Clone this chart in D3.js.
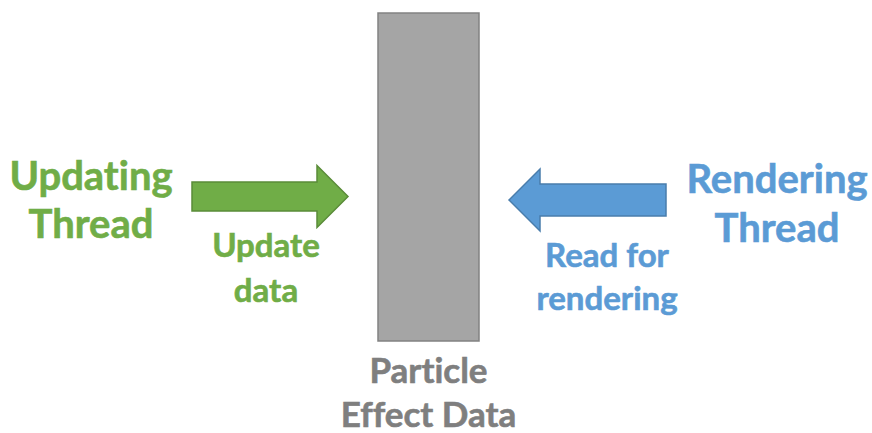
<!DOCTYPE html>
<html>
<head>
<meta charset="utf-8">
<script src="https://cdn.jsdelivr.net/npm/d3@7"></script>
<style>
  html, body { margin: 0; padding: 0; background: #fff; }
  svg text { font-family: Lato, "Open Sans", sans-serif; font-weight: bold; font-variant-ligatures: none; }
</style>
</head>
<body>
<div id="chart"></div>
<script>
'use strict';

// nodes of the diagram (left thread, shared data, right thread)
var nodeNames = ['Updating Thread', 'Particle Effect Data', 'Rendering Thread'];
var nodeLines = [['Updating', 'Thread'], ['Particle', 'Effect Data'], ['Rendering', 'Thread']];
var nodeColors = ['#70ad47', '#7f7f7f', '#5b9bd5'];

// arrows between them
var arrowLabels = [['Update', 'data'], ['Read for', 'rendering']];
var arrowColors = ['#70ad47', '#5b9bd5'];

var width = 872, height = 433;

var svg = d3.select('#chart').append('svg')
  .attr('width', width)
  .attr('height', height);

// column centres: left label, left arrow, block, right arrow, right label
var x = d3.scalePoint().domain(d3.range(5)).range([91, 777]);
var blockCx = 428.5;
var y = d3.scaleLinear().domain([0, 1]).range([13, 341]);

// data block in the middle
var blockW = 101;
svg.append('rect')
  .attr('x', blockCx - blockW / 2)
  .attr('y', y(0))
  .attr('width', blockW)
  .attr('height', y(1) - y(0))
  .attr('fill', '#a5a5a5')
  .attr('stroke', '#828282')
  .attr('stroke-width', 1.5);

function multiline(cx, base, lineH, size, color, lines){
  svg.append('text')
    .attr('x', cx)
    .attr('y', base)
    .attr('text-anchor', 'middle')
    .attr('fill', color)
    .attr('stroke', color)
    .attr('stroke-width', 0.6)
    .attr('font-size', size)
    .selectAll('tspan')
    .data(lines)
    .enter().append('tspan')
    .attr('x', cx)
    .attr('dy', function(d, i){ return i ? lineH : 0; })
    .text(function(d){ return d; });
}

// block label
multiline(blockCx, 383, 44, 35, nodeColors[1], nodeLines[1]);

// thread labels
multiline(x(0), 190, 48, 40, nodeColors[0], nodeLines[0]);
multiline(x(4), 193, 49, 40, nodeColors[2], nodeLines[2]);

// block arrows
var arrowGeom = [
  {x0: 192, x1: 348, cy: 196.5, bodyH: 29, headH: 62, headL: 31},
  {x0: 666, x1: 509, cy: 200, bodyH: 32, headH: 62, headL: 31}
];

arrowGeom.forEach(function(g, i){
  var dir = g.x1 > g.x0 ? 1 : -1;
  var hb = g.x1 - dir * g.headL;
  var pts = [
    [g.x0, g.cy - g.bodyH / 2],
    [hb, g.cy - g.bodyH / 2],
    [hb, g.cy - g.headH / 2],
    [g.x1, g.cy],
    [hb, g.cy + g.headH / 2],
    [hb, g.cy + g.bodyH / 2],
    [g.x0, g.cy + g.bodyH / 2]
  ];
  svg.append('path')
    .attr('d', d3.line()(pts) + 'Z')
    .attr('fill', arrowColors[i])
    .attr('stroke', d3.color(arrowColors[i]).darker(0.6))
    .attr('stroke-width', 1.5);
});

// arrow labels
multiline(266, 257, 45, 33, arrowColors[0], arrowLabels[0]);
multiline(607, 267, 43, 33, arrowColors[1], arrowLabels[1]);
</script>
</body>
</html>
